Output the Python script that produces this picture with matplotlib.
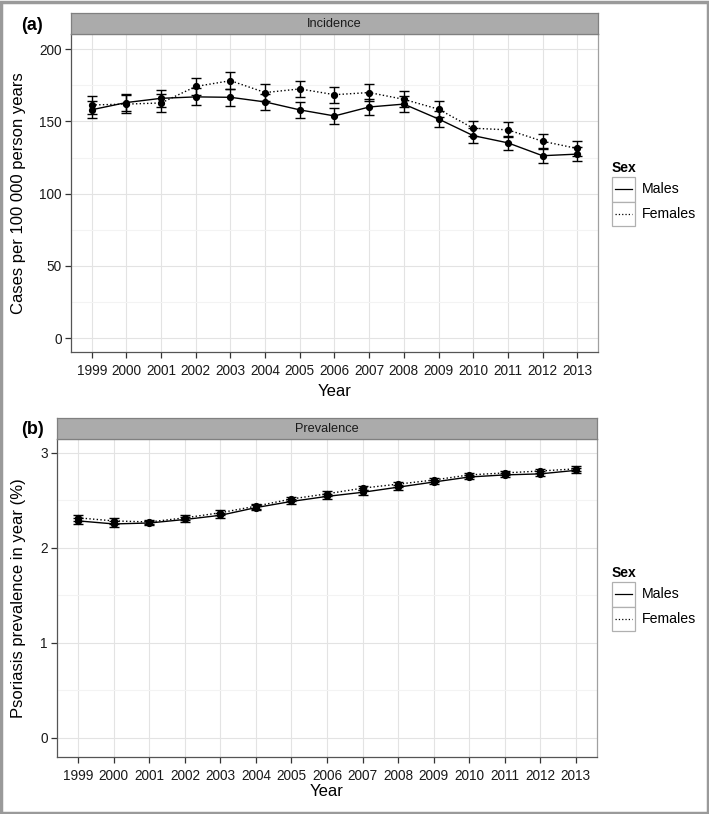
import numpy as np
import matplotlib
matplotlib.use('Agg')
import matplotlib.pyplot as plt
from matplotlib.lines import Line2D
from matplotlib.patches import Rectangle

plt.rcParams['font.family'] = ['Liberation Sans', 'DejaVu Sans']

years = ['1999', '2000', '2001', '2002', '2003', '2004', '2005', '2006',
         '2007', '2008', '2009', '2010', '2011', '2012', '2013']

# incidence, cases per 100 000 person years
inc_males = [158.1, 163.1, 166.0, 167.0, 166.7, 163.5, 158.0, 153.8,
             160.0, 162.0, 151.7, 140.2, 135.2, 126.3, 127.4]
inc_females = [161.4, 162.0, 162.8, 174.2, 178.2, 170.0, 172.5, 168.5,
               170.0, 165.3, 158.5, 145.3, 144.2, 136.3, 131.3]
inc_males_err = [6.0, 6.0, 6.0, 5.8, 5.8, 5.6, 5.5, 5.5,
                 5.5, 5.3, 5.3, 5.0, 5.0, 4.8, 4.8]
inc_females_err = [6.2, 6.2, 6.0, 6.0, 6.0, 5.8, 5.8, 5.6,
                   5.6, 5.5, 5.4, 5.2, 5.2, 5.0, 5.0]

# prevalence, %
prev_males = [2.285, 2.253, 2.263, 2.300, 2.344, 2.425, 2.490, 2.543,
              2.586, 2.640, 2.694, 2.747, 2.769, 2.780, 2.817]
prev_females = [2.317, 2.285, 2.274, 2.317, 2.371, 2.440, 2.516, 2.570,
                2.630, 2.672, 2.715, 2.769, 2.790, 2.810, 2.833]
prev_err = [0.03, 0.03, 0.025, 0.025, 0.025, 0.025, 0.025, 0.025,
            0.025, 0.025, 0.025, 0.025, 0.025, 0.025, 0.025]

W, H = 709, 814


def px_rect(x0, y0, x1, y1):
    # pixel box (top-left origin) -> figure fraction
    return [x0 / W, 1 - y1 / H, (x1 - x0) / W, (y1 - y0) / H]


def panel(fig, box, strip_box, title, tag, tag_y, males, females, m_err, f_err,
          ylim, yticks, minor, ylabel, xlab_y, legend_top):
    ax = fig.add_axes(px_rect(*box))
    x0, y0, x1, y1 = box
    x = np.arange(len(years))
    ax.set_xlim(-0.6, len(years) - 0.4)
    ax.set_ylim(*ylim)
    ax.set_yticks(yticks)
    ax.set_yticks(minor, minor=True)
    ax.set_xticks(x)
    ax.set_xticklabels(years)
    ax.grid(True, which='major', color='#e3e3e3', lw=0.8)
    ax.grid(True, which='minor', axis='y', color='#f3f3f3', lw=0.8)
    ax.set_axisbelow(True)
    ax.tick_params(which='minor', length=0)
    ax.tick_params(which='major', length=4.3, width=0.9, color='#333333',
                   labelsize=9.8, labelcolor='#1a1a1a')
    ax.tick_params(axis='x', pad=4.6)
    ax.tick_params(axis='y', pad=2.2)
    for s in ['top', 'right']:
        ax.spines[s].set_color('#a0a0a0')
        ax.spines[s].set_linewidth(0.9)
    for s in ['left', 'bottom']:
        ax.spines[s].set_color('#555555')
        ax.spines[s].set_linewidth(0.9)

    ax.errorbar(x, males, yerr=m_err, color='black', lw=1.0, ls='-',
                marker='o', ms=4.2, capsize=3.5, elinewidth=1.0, capthick=1.0)
    ax.errorbar(x, females, yerr=f_err, color='black', lw=1.0, ls=':',
                marker='o', ms=4.2, capsize=3.5, elinewidth=1.0, capthick=1.0)

    ax.set_xlabel('Year', fontsize=12, va='center')
    ax.set_ylabel(ylabel, fontsize=12, va='center')
    ax.yaxis.set_label_coords((18.5 - x0) / (x1 - x0), 0.5)
    ax.xaxis.set_label_coords(0.5, (y1 - xlab_y) / (y1 - y0))

    # facet strip
    sx = fig.add_axes(px_rect(*strip_box))
    sx.set_facecolor('#ababab')
    sx.set_xticks([])
    sx.set_yticks([])
    for s in sx.spines.values():
        s.set_color('#808080')
        s.set_linewidth(0.9)
    sx.text(0.5, 0.5, title, ha='center', va='center', fontsize=9.2,
            color='#1a1a1a', transform=sx.transAxes)

    fig.text(21 / W, 1 - tag_y / H, tag, fontsize=13, fontweight='bold',
             ha='left', va='center')

    # legend
    fig.text(612 / W, 1 - (legend_top - 9) / H, 'Sex', fontsize=10,
             fontweight='bold', ha='left', va='center')
    key_h = 24.5
    for i, (lab, ls) in enumerate([('Males', '-'), ('Females', ':')]):
        top = legend_top + i * key_h
        fig.patches.append(Rectangle((612 / W, 1 - (top + key_h) / H),
                                     23 / W, key_h / H, transform=fig.transFigure,
                                     facecolor='white', edgecolor='#b0b0b0', lw=0.9))
        cy = 1 - (top + key_h / 2) / H
        fig.lines.append(Line2D([615 / W, 632 / W], [cy, cy], transform=fig.transFigure,
                                color='black', lw=0.9, ls=ls))
        fig.text(642 / W, cy, lab, fontsize=10.2, ha='left', va='center')
    return ax


def main():
    fig = plt.figure(figsize=(W / 100, H / 100), dpi=100)

    panel(fig, (71, 34, 598, 352), (71, 13.5, 598, 34), 'Incidence', '(a)', 25,
          inc_males, inc_females, inc_males_err, inc_females_err,
          (-9.5, 210.5), [0, 50, 100, 150, 200], [25, 75, 125, 175],
          'Cases per 100 000 person years', 392, 177)

    panel(fig, (57, 439, 597, 757), (57, 418, 597, 439), 'Prevalence', '(b)', 430,
          prev_males, prev_females, prev_err, prev_err,
          (-0.2, 3.147), [0, 1, 2, 3], [0.5, 1.5, 2.5],
          'Psoriasis prevalence in year (%)', 791, 582)

    # outer frame of the figure
    fig.patches.append(Rectangle((0.001, 0.001), 0.997, 0.997, transform=fig.transFigure,
                                 fill=False, edgecolor='#9a9a9a', lw=2.5))

    fig.savefig('out.png', dpi=100)


if __name__ == '__main__':
    main()
